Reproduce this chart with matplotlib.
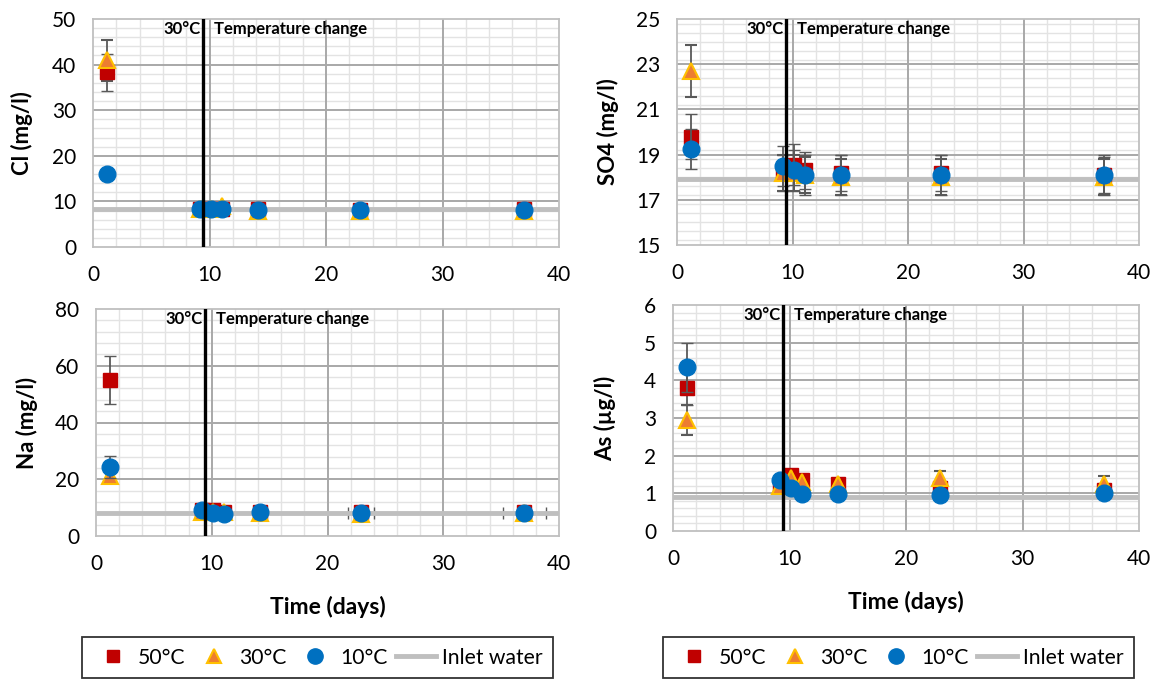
import matplotlib
matplotlib.use("Agg")
import matplotlib.pyplot as plt
from matplotlib.lines import Line2D
from matplotlib.ticker import MultipleLocator, FixedLocator
import numpy as np

plt.rcParams['font.family'] = ['Lato', 'DejaVu Sans']

# ---------------- data ----------------
days = [1.2, 9.2, 10.1, 11.1, 14.2, 22.9, 37.0]
switch_day = 9.46

cl_50 = [38.3, 8.4, 8.4, 8.4, 8.4, 8.2, 8.3]
cl_30 = [41.0, 8.3, 8.3, 9.0, 8.0, 8.0, 8.0]
cl_10 = [16.0, 8.3, 8.3, 8.3, 8.1, 8.1, 8.1]
cl_50_err = [4.0, 0.3, 0.3, 0.3, 0.3, 0.3, 0.3]
cl_30_err = [4.5, 0.3, 0.3, 0.3, 0.3, 0.3, 0.3]
cl_10_err = [1.0, 0.3, 0.3, 0.3, 0.3, 0.3, 0.3]
cl_inlet = 8.3

so4_50 = [19.8, 18.2, 18.55, 18.3, 18.2, 18.2, 18.1]
so4_30 = [22.7, 18.2, 18.2, 18.1, 18.0, 18.0, 18.0]
so4_10 = [19.25, 18.5, 18.3, 18.1, 18.1, 18.1, 18.1]
so4_50_err = [1.0, 0.8, 0.9, 0.8, 0.8, 0.8, 0.8]
so4_30_err = [1.15, 0.8, 0.8, 0.8, 0.8, 0.8, 0.8]
so4_10_err = [0.9, 0.9, 0.9, 0.9, 0.9, 0.9, 0.9]
so4_inlet = 17.9

na_50 = [55.0, 9.0, 9.0, 8.5, 8.5, 8.3, 8.3]
na_30 = [21.0, 8.5, 8.5, 8.5, 8.0, 7.8, 8.0]
na_10 = [24.3, 9.2, 8.2, 7.9, 8.5, 8.0, 8.0]
na_50_err = [8.5, 0.4, 0.4, 0.4, 0.4, 0.4, 0.4]
na_30_err = [1.5, 0.4, 0.4, 0.4, 0.4, 0.4, 0.4]
na_10_err = [4.0, 0.4, 0.4, 0.4, 0.4, 0.4, 0.4]
na_10_xerr = [0, 0, 0, 0, 0, 1.15, 1.85]
na_inlet = 8.0

as_50 = [3.8, 1.2, 1.5, 1.35, 1.25, 1.15, 1.1]
as_30 = [2.95, 1.2, 1.4, 1.3, 1.25, 1.4, 1.25]
as_10 = [4.35, 1.35, 1.15, 0.97, 0.97, 0.95, 1.0]
as_50_err = [0.45, 0.1, 0.1, 0.1, 0.1, 0.1, 0.1]
as_30_err = [0.4, 0.1, 0.1, 0.1, 0.1, 0.2, 0.2]
as_10_err = [0.65, 0.1, 0.1, 0.1, 0.1, 0.1, 0.1]
as_inlet = 0.9

so4_ticks = [15, 17, 19, 21, 23, 25]

labels = ['50°C', '30°C', '10°C', 'Inlet water']

RED = '#C00000'
ORANGE = '#ED7D31'
ORANGE_EDGE = '#FFC000'
BLUE = '#0070C0'
GRAY = '#BFBFBF'
ERR = '#595959'
MINOR_GRID = '#E3E3E3'
MAJOR_GRID = '#A8A8A8'

W, H = 1156, 682
fig = plt.figure(figsize=(W / 100, H / 100), dpi=100)


def px_axes(l, r, t, b):
    return fig.add_axes([l / W, 1 - b / H, (r - l) / W, (b - t) / H])


def panel(ax, s50, s30, s10, e50, e30, e10, inlet, ylim, major, minor, ylabel,
          xlabel=None, xerr10=None, yticks=None, ylabelpad=12):
    ax.set_xlim(0, 40)
    ax.set_ylim(*ylim)
    ax.xaxis.set_major_locator(MultipleLocator(10))
    ax.xaxis.set_minor_locator(MultipleLocator(2))
    if yticks is not None:
        ax.yaxis.set_major_locator(FixedLocator(yticks))
    else:
        ax.yaxis.set_major_locator(MultipleLocator(major))
    ax.yaxis.set_minor_locator(MultipleLocator(minor))
    # grid drawn manually so that major lines stay on top of all minor lines
    for x in ax.xaxis.get_minorticklocs():
        ax.axvline(x, color=MINOR_GRID, lw=1.0, zorder=0.1)
    for y in ax.yaxis.get_minorticklocs():
        ax.axhline(y, color=MINOR_GRID, lw=1.0, zorder=0.1)
    for x in ax.xaxis.get_majorticklocs():
        if 0 < x < 40:
            ax.axvline(x, color=MAJOR_GRID, lw=1.4, zorder=0.3)
    for y in ax.yaxis.get_majorticklocs():
        if ylim[0] < y < ylim[1]:
            ax.axhline(y, color=MAJOR_GRID, lw=1.4, zorder=0.3)
    for s in ax.spines.values():
        s.set_color('#BFBFBF')
        s.set_linewidth(1.3)
    ax.tick_params(which='both', length=0, labelsize=15)
    ax.tick_params(axis='x', pad=13)
    ax.tick_params(axis='y', pad=12)
    if xerr10 is not None:
        ax.errorbar(days, s10, xerr=xerr10, fmt='none', ecolor=ERR,
                    elinewidth=1.3, capsize=4, zorder=0.9)
    ax.axhline(inlet, color=GRAY, lw=3.5, zorder=1)
    ax.axvline(switch_day, color='black', lw=2.4, zorder=5)
    ax.errorbar(days, s50, yerr=e50, fmt='s', ms=9.5, color=RED, mec=RED,
                ecolor=ERR, elinewidth=1.3, capsize=4, zorder=3)
    ax.errorbar(days, s30, yerr=e30, fmt='^', ms=11, color=ORANGE, mec=ORANGE_EDGE,
                mew=1.5, ecolor=ERR, elinewidth=1.3, capsize=4, zorder=3)
    ax.errorbar(days, s10, yerr=e10, fmt='o', ms=12, color=BLUE,
                mec=BLUE, ecolor=ERR, elinewidth=1.3, capsize=4, zorder=4)
    ax.text(switch_day - 0.25, 0.955, '30°C', transform=ax.get_xaxis_transform(),
            ha='right', va='center', fontsize=12, fontweight='bold', zorder=6)
    ax.text(switch_day + 0.95, 0.955, 'Temperature change',
            transform=ax.get_xaxis_transform(), ha='left', va='center',
            fontsize=12, fontweight='bold', zorder=6)
    ax.set_ylabel(ylabel, fontsize=16, fontweight='bold', labelpad=ylabelpad)
    if xlabel:
        ax.set_xlabel(xlabel, fontsize=16.5, fontweight='bold', labelpad=16)


ax1 = px_axes(93, 559, 19, 247)
panel(ax1, cl_50, cl_30, cl_10, cl_50_err, cl_30_err, cl_10_err, cl_inlet,
      (0, 50), 10, 2, 'Cl (mg/l)', ylabelpad=14)

ax2 = px_axes(677, 1139, 19, 245)
panel(ax2, so4_50, so4_30, so4_10, so4_50_err, so4_30_err, so4_10_err, so4_inlet,
      (15, 25), 2, 0.4, 'SO4 (mg/l)', yticks=so4_ticks)

ax3 = px_axes(96, 559, 309, 536)
panel(ax3, na_50, na_30, na_10, na_50_err, na_30_err, na_10_err, na_inlet,
      (0, 80), 20, 4, 'Na (mg/l)', xlabel='Time (days)', xerr10=na_10_xerr)

ax4 = px_axes(673, 1139, 305, 531)
panel(ax4, as_50, as_30, as_10, as_50_err, as_30_err, as_10_err, as_inlet,
      (0, 6), 1, 0.2, 'As (µg/l)', xlabel='Time (days)', ylabelpad=20)

handles = [
    Line2D([], [], ls='none', marker='s', ms=9, color=RED),
    Line2D([], [], ls='none', marker='^', ms=10, color=ORANGE, mec=ORANGE_EDGE, mew=1.5),
    Line2D([], [], ls='none', marker='o', ms=11, color=BLUE),
    Line2D([], [], color=GRAY, lw=3.5),
]
for x0 in (82, 663):
    leg = fig.legend(handles, labels, loc='upper left',
                     bbox_to_anchor=(x0 / W, 1 - 637 / H), ncol=4, fontsize=15.2,
                     frameon=True, fancybox=False, edgecolor='black',
                     handlelength=1.9, handletextpad=0.25, columnspacing=0.4,
                     borderpad=0.5, borderaxespad=0)
    leg.get_frame().set_linewidth(1.3)

fig.savefig('out.png', dpi=100)
